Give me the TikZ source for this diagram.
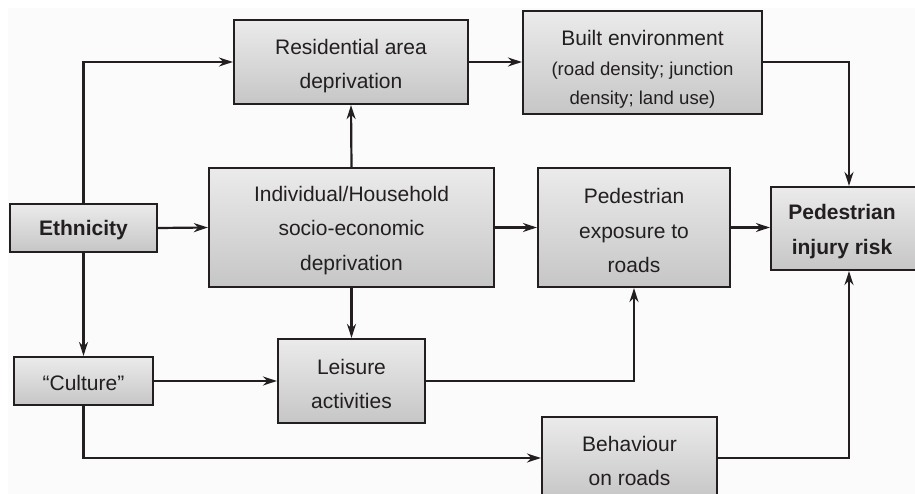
\documentclass[tikz,border=0pt]{standalone}
\usepackage{fontspec}
\setmainfont{Liberation Sans}
\usetikzlibrary{arrows.meta}
\definecolor{boxtop}{HTML}{EBEBEB}
\definecolor{boxbot}{HTML}{C6C6C6}
\definecolor{ink}{HTML}{231F20}
\newcommand\paren{\fontsize{18.6}{29}\selectfont}
\begin{document}
\begin{tikzpicture}[x=1pt,y=-1pt,
  box/.style={draw=ink,line width=2.2pt,top color=boxtop,bottom color=boxbot,inner sep=0pt},
  txt/.style={inner sep=0pt,align=center,text=ink,font=\fontsize{21}{34.5}\selectfont},
  btxt/.style={txt,font=\fontsize{21}{34.5}\selectfont\bfseries},
  conn/.style={draw=ink,line width=2.2pt,-{Stealth[length=14pt,width=9pt,inset=4.5pt]}}]
\useasboundingbox (0,0) rectangle (915,494);
\clip (0,0) rectangle (915,494);
\fill[fill={rgb,255:red,251;green,251;blue,251}] (8,8) rectangle (915,494);
% boxes
\node[box,minimum width=234pt,minimum height=84pt] (res) at (351,62) {};
\node[box,minimum width=239pt,minimum height=103pt] (built) at (642.5,62.5) {};
\node[box,minimum width=147pt,minimum height=48pt] (eth) at (83.5,228) {};
\node[box,minimum width=285pt,minimum height=119pt] (ind) at (351.5,227.5) {};
\node[box,minimum width=192pt,minimum height=119pt] (exp) at (634,227.5) {};
\node[box,minimum width=156pt,minimum height=83pt] (inj) at (849,228.5) {};
\node[box,minimum width=139pt,minimum height=48pt] (cul) at (83.5,381) {};
\node[box,minimum width=147pt,minimum height=84pt] (lei) at (351.5,381) {};
\node[box,minimum width=175pt,minimum height=82pt] (beh) at (629.5,458) {};
% texts
\node[txt] (res-t) at ([yshift=-4pt]res.center) {Residential area\\deprivation};
\node[txt,font=\fontsize{21}{29.5}\selectfont] (built-t) at ([yshift=-7pt]built.center) {Built environment\\\paren(road density; junction\\\paren density; land use)};
\node[btxt] (eth-t) at ([yshift=-2pt]eth.center) {Ethnicity};
\node[txt] (ind-t) at ([yshift=-3pt]ind.center) {Individual/Household\\socio-economic\\deprivation};
\node[txt] (exp-t) at ([yshift=-3pt]exp.center) {Pedestrian\\exposure to\\roads};
\node[btxt] (inj-t) at ([xshift=-7pt,yshift=-3pt]inj.center) {Pedestrian\\injury risk};
\node[txt] (cul-t) at ([yshift=-2pt]cul.center) {“Culture”};
\node[txt] (lei-t) at ([yshift=-3pt]lei.center) {Leisure\\activities};
\node[txt] (beh-t) at ([yshift=-3pt]beh.center) {Behaviour\\on roads};
% connectors
\draw[conn] (eth.north) |- (res.west);
\draw[conn] (eth.east) -- (ind.west);
\draw[conn] (eth.south) -- (cul.north);
\draw[conn] (ind.north) -- (res.south);
\draw[conn] (res.east) -- (res.east -| built.west);
\draw[conn] (built.east |- res.east) -| (inj.north);
\draw[conn] (ind.east) -- (exp.west);
\draw[conn] (exp.east) -- (exp.east -| inj.west);
\draw[conn] (ind.south) -- (lei.north);
\draw[conn] (cul.east) -- (lei.west);
\draw[conn] (lei.east) -| (exp.south);
\draw[conn] (cul.south) |- (beh.west);
\draw[conn] (beh.east) -| (inj.south);
\end{tikzpicture}
\end{document}
